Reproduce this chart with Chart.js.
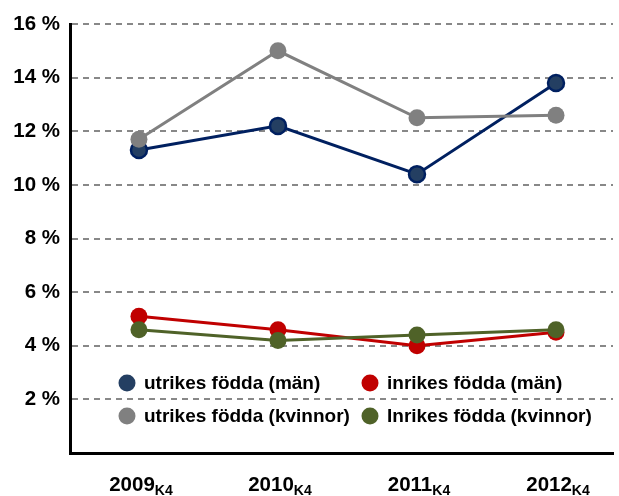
<!DOCTYPE html>
<html>
<head>
<meta charset="utf-8">
<script src="https://cdn.jsdelivr.net/npm/chart.js@4"></script>
<style>
    html, body { margin: 0; padding: 0; background: #fff; }
    #wrap { width: 619px; height: 496px; }
</style>
</head>
<body>
<div id="wrap"><canvas id="chart" width="619" height="496"></canvas></div>
<script>
const years = ['2009', '2010', '2011', '2012'];
const quarter = 'K4';
const yTicks = [0, 2, 4, 6, 8, 10, 12, 14, 16];

const utrikesMan = [11.3, 12.2, 10.4, 13.8];
const utrikesKvinnor = [11.7, 15.0, 12.5, 12.6];
const inrikesMan = [5.1, 4.6, 4.0, 4.5];
const inrikesKvinnor = [4.6, 4.2, 4.4, 4.6];

const FONT = '"Liberation Sans", Arial, sans-serif';

function toPoints(arr) {
    return arr.map((v, i) => ({ x: i, y: v }));
}

function series(label, values, line, fill, border, order) {
    return {
        label: label,
        data: toPoints(values),
        borderColor: line,
        backgroundColor: fill,
        pointBackgroundColor: fill,
        pointBorderColor: border,
        pointBorderWidth: border === fill ? 0 : 2.5,
        pointRadius: border === fill ? 8.5 : 8,
        pointHoverRadius: 8,
        borderWidth: 3,
        tension: 0,
        order: order
    };
}

// egen legend inne i diagramytan, två kolumner
const legendPlugin = {
    id: 'insideLegend',
    afterDraw(chart) {
        const { ctx } = chart;
        const cols = [127, 370];
        const rows = [383, 416];
        ctx.save();
        ctx.font = 'bold 19px ' + FONT;
        ctx.textBaseline = 'middle';
        ctx.textAlign = 'left';
        chart.data.datasets.forEach((ds, i) => {
            const x = cols[i % 2];
            const y = rows[Math.floor(i / 2)];
            ctx.beginPath();
            ctx.arc(x, y, 8.5, 0, Math.PI * 2);
            ctx.fillStyle = ds.pointBackgroundColor;
            ctx.fill();
            ctx.fillStyle = '#000';
            ctx.fillText(ds.label, x + 17, y + 1);
        });
        ctx.restore();
    }
};

// årtal med nedsänkt K4 under x-axeln
const xLabelPlugin = {
    id: 'subLabels',
    afterDraw(chart) {
        const { ctx } = chart;
        const xs = chart.scales.x;
        ctx.save();
        ctx.fillStyle = '#000';
        ctx.textBaseline = 'alphabetic';
        ctx.textAlign = 'left';
        years.forEach((yr, i) => {
            const px = xs.getPixelForValue(i);
            ctx.font = 'bold 20.5px ' + FONT;
            const w = ctx.measureText(yr).width;
            ctx.font = 'bold 14px ' + FONT;
            const ws = ctx.measureText(quarter).width;
            const left = px + 2 - (w + ws) / 2;
            ctx.font = 'bold 20.5px ' + FONT;
            ctx.fillText(yr, left, 491);
            ctx.font = 'bold 14px ' + FONT;
            ctx.fillText(quarter, left + w, 495);
        });
        ctx.restore();
    }
};

new Chart(document.getElementById('chart'), {
    type: 'line',
    data: {
        datasets: [
            series('utrikes födda (män)', utrikesMan, '#002060', '#243f62', '#002060', 2),
            series('inrikes födda (män)', inrikesMan, '#c00000', '#c00000', '#c00000', 3),
            series('utrikes födda (kvinnor)', utrikesKvinnor, '#808080', '#808080', '#808080', 0),
            series('Inrikes födda (kvinnor)', inrikesKvinnor, '#4f6228', '#4f6228', '#4f6228', 1)
        ]
    },
    options: {
        responsive: false,
        animation: false,
        layout: { autoPadding: false, padding: { top: 24, right: 6, left: 0, bottom: 0 } },
        plugins: {
            legend: { display: false },
            tooltip: { enabled: false }
        },
        scales: {
            x: {
                type: 'linear',
                min: -0.496,
                max: 3.41,
                ticks: { display: false },
                grid: { display: false },
                border: { color: '#000', width: 3 },
                afterFit(scale) { scale.height = 43; }
            },
            y: {
                min: 0,
                max: 16,
                afterBuildTicks(scale) {
                    scale.ticks = yTicks.map(v => ({ value: v }));
                },
                ticks: {
                    padding: 10,
                    color: '#000',
                    font: { family: FONT, size: 20.5, weight: 'bold' },
                    callback: v => v === 0 ? '' : v + ' %'
                },
                grid: {
                    color: '#888',
                    lineWidth: 2,
                    drawTicks: false
                },
                border: { color: '#000', width: 3, dash: [6, 5] },
                afterFit(scale) { scale.width = 70; }
            }
        }
    },
    plugins: [legendPlugin, xLabelPlugin]
});
</script>
</body>
</html>
